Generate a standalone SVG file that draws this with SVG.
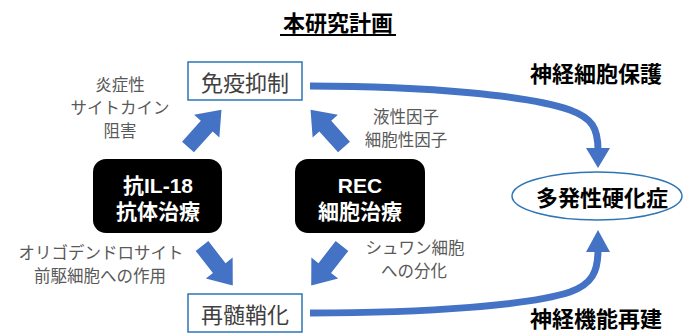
<svg xmlns="http://www.w3.org/2000/svg" width="685" height="334" viewBox="0 0 685 334">
<defs>
<style>
text{font-family:"Noto Sans CJK JP","Noto Sans",sans-serif;text-anchor:middle;dominant-baseline:central}
.lbl{font-size:16.5px;fill:#595959}
.box{fill:#fff;stroke:#2E75B6;stroke-width:1.5}
.boxt{font-size:22px;fill:#404040}
.blk{fill:#000}
.blkt{font-size:21px;font-weight:bold;fill:#fff;font-family:"Liberation Sans","Noto Sans CJK JP",sans-serif}
.hd{font-size:22px;font-weight:bold;fill:#000}
.arr{fill:#4472C4}
.curve{fill:none;stroke:#4472C4;stroke-width:7}
</style>
<polygon id="blockArrow" points="0,-8 28,-8 28,-17 50,0 28,17 28,8 0,8"/>
</defs>
<rect width="685" height="334" fill="#fff"/>

<g id="title">
<text x="338" y="21" class="hd">本研究計画</text>
<line x1="280" y1="35" x2="396" y2="35" stroke="#000" stroke-width="2"/>
</g>

<g id="connectors">
<use href="#blockArrow" class="arr" transform="translate(188,147) rotate(-48)"/>
<use href="#blockArrow" class="arr" transform="translate(344,147) rotate(-132)"/>
<use href="#blockArrow" class="arr" transform="translate(202,246) rotate(52)"/>
<use href="#blockArrow" class="arr" transform="translate(342,246) rotate(128)"/>
<path class="curve" d="M310,86 C430,86 530,96 570,110 C592,118 598,128 598,150"/>
<polygon class="arr" points="586,148 610,148 598,168"/>
<path class="curve" d="M310,313 C430,313 530,305 570,292 C592,284 598,272 598,250"/>
<polygon class="arr" points="586,252 610,252 598,230"/>
</g>

<g id="node-immune">
<rect class="box" x="188" y="62" width="114" height="38"/>
<text class="boxt" x="245" y="81">免疫抑制</text>
</g>

<g id="node-remyelination">
<rect class="box" x="188" y="294" width="114" height="38"/>
<text class="boxt" x="245" y="313">再髄鞘化</text>
</g>

<g id="node-il18">
<rect class="blk" x="93" y="159" width="129" height="74" rx="13"/>
<text class="blkt" x="158" y="185">抗IL-18</text>
<text class="blkt" x="158" y="211">抗体治療</text>
</g>

<g id="node-rec">
<rect class="blk" x="295" y="159" width="130" height="74" rx="13"/>
<text class="blkt" x="360" y="185">REC</text>
<text class="blkt" x="360" y="211">細胞治療</text>
</g>

<g id="node-ms">
<ellipse cx="597" cy="196" rx="85" ry="24" fill="#fff" stroke="#2E75B6" stroke-width="1.5"/>
<text class="hd" x="602" y="196">多発性硬化症</text>
</g>

<g id="labels">
<text class="lbl" x="120" y="84">炎症性</text>
<text class="lbl" x="120" y="107">サイトカイン</text>
<text class="lbl" x="120" y="130">阻害</text>
<text class="lbl" x="406" y="116">液性因子</text>
<text class="lbl" x="406" y="139">細胞性因子</text>
<text class="lbl" x="101" y="252">オリゴデンドロサイト</text>
<text class="lbl" x="100" y="275">前駆細胞への作用</text>
<text class="lbl" x="415" y="247">シュワン細胞</text>
<text class="lbl" x="414" y="270">への分化</text>
<text class="hd" x="596" y="72">神経細胞保護</text>
<text class="hd" x="596" y="317">神経機能再建</text>
</g>
</svg>
